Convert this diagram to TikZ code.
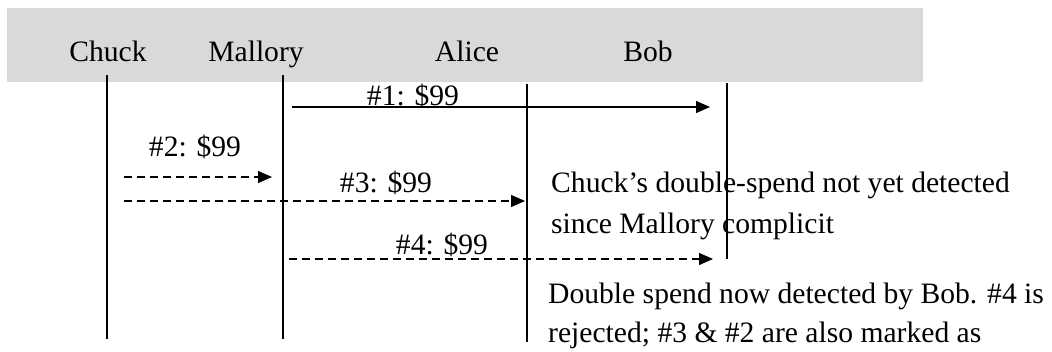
\documentclass[tikz,border=0pt]{standalone}
\usepackage{fontspec}
\setmainfont{Liberation Serif}
\usetikzlibrary{arrows.meta}
\definecolor{band}{HTML}{D9D9D9}
\begin{document}
\begin{tikzpicture}[x=1pt,y=-1pt,
  lbl/.style={font=\fontsize{29.6}{40}\selectfont, inner sep=0pt, anchor=base},
  life/.style={line width=1.5pt},
  msg/.style={line width=1.3pt, -{Triangle[length=14pt,width=12pt]}},
  dmsg/.style={msg, dash pattern=on 8pt off 5pt},
  note/.style={lbl, anchor=base west}]
\useasboundingbox (0,0) rectangle (1052,352);
\fill[band] (7,8) rectangle (923,82);
% actors
\node[lbl] (chuck) at (108,62) {Chuck};
\node[lbl] (mallory) at (256,62) {Mallory};
\node[lbl] (alice) at (467,62) {Alice};
\node[lbl] (bob) at (648,62) {Bob};
% lifelines
\coordinate (cT) at (107,75);  \coordinate (cB) at (107,339);
\coordinate (mT) at (283,75);  \coordinate (mB) at (283,339);
\coordinate (aT) at (527,84);  \coordinate (aB) at (527,342);
\coordinate (bT) at (727,83);  \coordinate (bB) at (727,259);
\draw[life] (cT) -- (cB);
\draw[life] (mT) -- (mB);
\draw[life] (aT) -- (aB);
\draw[life] (bT) -- (bB);
% messages
\coordinate (m1s) at (292,107); \coordinate (m1e) at (710,107);
\coordinate (m2s) at (124,177); \coordinate (m2e) at (272,177);
\coordinate (m3s) at (124,201); \coordinate (m3e) at (525,201);
\coordinate (m4s) at (289,259); \coordinate (m4e) at (713,259);
\draw[msg] (m1s) -- (m1e);
\draw[dmsg] (m2s) -- (m2e);
\draw[dmsg] (m3s) -- (m3e);
\draw[dmsg] (m4s) -- (m4e);
\node[lbl] (l1) at (413,106) {\#1: \$99};
\node[lbl] (l2) at (195,157) {\#2: \$99};
\node[lbl] (l3) at (386,193) {\#3: \$99};
\node[lbl] (l4) at (442,255) {\#4: \$99};
% notes
\node[note] (n1a) at (551,193) {Chuck’s double-spend not yet detected};
\node[note] (n1b) at (551,234) {since Mallory complicit};
\node[note] (n2a) at (548,304) {Double spend now detected by Bob. \#4 is};
\node[note] (n2b) at (548,343) {rejected; \#3 \& \#2 are also marked as};
\end{tikzpicture}
\end{document}
